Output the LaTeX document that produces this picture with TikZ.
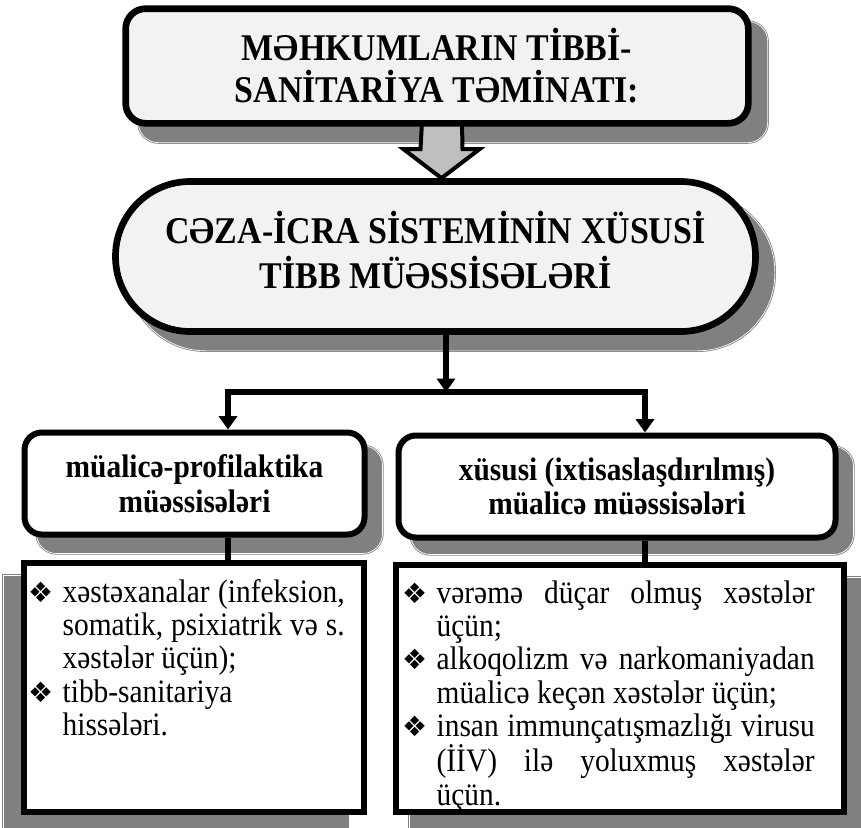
\documentclass[tikz,border=0pt]{standalone}
\usepackage{fontspec}
\setmainfont{Liberation Serif}[FakeStretch=0.9]
\newfontfamily\symfont{DejaVu Sans}
\usetikzlibrary{arrows.meta,backgrounds}

\tikzset{
  big/.style={draw, line width=5pt, fill=gray!10, align=center,
    font=\bfseries\fontsize{28.3}{31.5}\selectfont},
  head/.style={draw, line width=4.5pt, fill=white, rounded corners=13pt, align=center,
    font=\bfseries\fontsize{24.5}{26}\selectfont},
  body/.style={draw, line width=4.5pt, fill=white,
    font=\fontsize{24.5}{25}\selectfont},
  shad/.style={fill=gray, draw=gray, double=white, double distance=0.5pt, line width=0.6pt},
  conn/.style={line width=4pt},
  blockarrow/.style={draw, line width=3pt, fill=gray!50, line join=miter},
}

\newcommand{\bul}{\makebox[26pt][l]{\symfont\fontsize{21}{21}\selectfont ❖}}
\newcommand{\ind}{\hspace*{26pt}}
\newcommand{\jline}[2]{\makebox[#1][s]{#2}}

\begin{document}
\begin{tikzpicture}[x=0.75pt, y=-0.75pt, >={Triangle[length=10pt,width=13.5pt]}]
\useasboundingbox (0,0) rectangle (861,828);

% Boxes
\node[big, rounded corners=15pt, minimum width=467pt, minimum height=86pt] (top) at (437,66)
  {MƏHKUMLARIN TİBBİ-\\SANİTARİYA TƏMİNATI:};
\node[big, rounded corners=56pt, minimum width=480pt, minimum height=112.5pt] (stad) at (435.5,256.5)
  {\raisebox{7pt}{\begin{tabular}{@{}c@{}}CƏZA-İCRA SİSTEMİNİN XÜSUSİ\\TİBB MÜƏSSİSƏLƏRİ\end{tabular}}};

\node[head, minimum width=255pt, minimum height=76.5pt] (lhead) at (194.5,483.5)
  {müalicə-profilaktika\\müəssisələri};
\node[head, minimum width=327.75pt, minimum height=76.5pt] (rhead) at (617,486.5)
  {xüsusi (ixtisaslaşdırılmış)\\müalicə müəssisələri};

\node[body, inner xsep=3pt, inner ysep=12pt, anchor=north west] (lbody) at (21,560)
  {\parbox[c][162.75pt][t]{249pt}{%
    \bul\jline{211.5pt}{xəstəxanalar (infeksion,}\\
    \ind\jline{211.5pt}{somatik, psixiatrik və s.}\\
    \ind xəstələr üçün);\\
    \bul tibb-sanitariya\\
    \ind hissələri.}};
\node[body, inner xsep=4.5pt, inner ysep=11.5pt, anchor=north west] (rbody) at (393,562)
  {\parbox[c][162.25pt][t]{327pt}{%
    \bul\jline{283.5pt}{vərəmə düçar olmuş xəstələr}\\
    \ind üçün;\\
    \bul\jline{283.5pt}{alkoqolizm və narkomaniyadan}\\
    \ind müalicə keçən xəstələr üçün;\\
    \bul\jline{283.5pt}{insan immunçatışmazlığı virusu}\\
    \ind\jline{283.5pt}{(İİV) ilə yoluxmuş xəstələr}\\
    \ind üçün.}};

% Shadows and block arrow
\begin{scope}[on background layer]
  \draw[shad, rounded corners=15pt] ([shift={(16,16)}]top.south west) rectangle ([shift={(16,16)}]top.north east);
  \draw[shad, rounded corners=58pt] ([shift={(16,16)}]stad.south west) rectangle ([shift={(16,16)}]stad.north east);
  \draw[shad, rounded corners=15pt] ([shift={(15,16)}]lhead.south west) rectangle ([shift={(15,16)}]lhead.north east);
  \draw[shad, rounded corners=15pt] ([shift={(15,14)}]rhead.south west) rectangle ([shift={(15,14)}]rhead.north east);
  \draw[shad] ([shift={(-18,15)}]lbody.south west) rectangle ([shift={(-18,15)}]lbody.north east);
  \draw[shad] ([shift={(16,15)}]rbody.south west) rectangle ([shift={(16,15)}]rbody.north east);

  \draw[blockarrow] ([shift={(-15,-5)}]top.south) -- ([shift={(-15,-29)}]stad.north)
    -- ([shift={(-32,-29)}]stad.north) -- ([shift={(6,0)}]stad.north) -- ([shift={(44,-29)}]stad.north)
    -- ([shift={(27,-29)}]stad.north) -- ([shift={(25,-5)}]top.south);
\end{scope}

% Connectors
\coordinate (jl) at (228,392);
\coordinate (jr) at (645,392);
\coordinate (js) at (446,392);
\draw[conn, ->] (stad.south -| js) -- (js);
\draw[conn, <->] (jl |- lhead.north) -- (jl) -- (jr) -- (jr |- rhead.north);
\draw[conn] (lhead.south -| jl) -- (lbody.north -| jl);
\draw[conn] (rhead.south -| jr) -- (rbody.north -| jr);
\end{tikzpicture}
\end{document}
